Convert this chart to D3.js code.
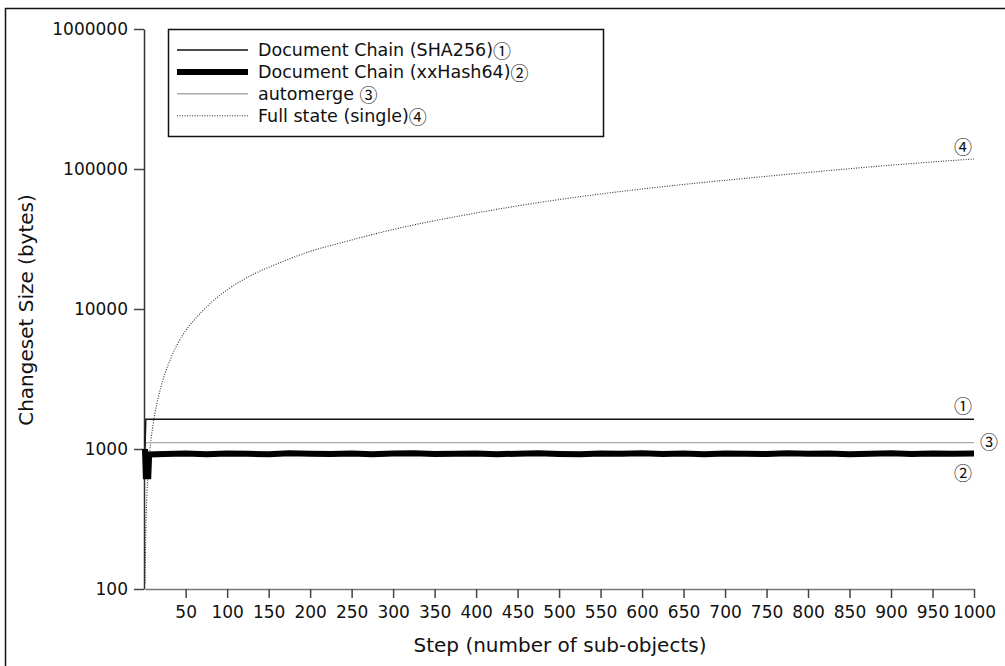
<!DOCTYPE html>
<meta charset="utf-8">
<script src="https://cdn.jsdelivr.net/npm/d3@7/dist/d3.min.js"></script>
<style type="text/css">
    body { margin: 0; background: #fff; }
    text { font-family: "DejaVu Sans", sans-serif; fill: #111; }
    .axis path, .axis line { fill: none; stroke: #444; stroke-width: 1.5; }
    .axis text { font-size: 17px; }
    .circ { font-family: "Noto Sans CJK JP", "DejaVu Sans", sans-serif; }
</style>
<body>
<script>
    // steps and values
    var shaSteps   = [1, 2, 1000],
        shaValues  = [1000, 1630, 1630];

    var xxSteps  = [1, 2, 5, 6, 25, 50, 75, 100, 125, 150, 175, 200, 225, 250, 275, 300, 325, 350, 375, 400,
                    425, 450, 475, 500, 525, 550, 575, 600, 625, 650, 675, 700, 725, 750, 775, 800,
                    825, 850, 875, 900, 925, 950, 975, 1000],
        xxValues = [1000, 640, 640, 915, 922, 928, 918, 930, 924, 919, 932, 926, 921, 929, 917, 927, 933, 920,
                    925, 930, 918, 926, 931, 922, 919, 928, 924, 933, 921, 927, 918, 929, 925, 920,
                    931, 923, 928, 919, 926, 932, 921, 927, 924, 929];

    var amSteps  = [1, 2, 1000],
        amValues = [1000, 1110, 1110];

    var fullSteps  = [1, 2, 3, 5, 7, 10, 13, 20, 25, 30, 40, 50, 60, 80, 100, 130, 160, 200, 240, 300,
                      400, 500, 600, 700, 800, 900, 1000],
        fullValues = [110, 260, 420, 720, 1000, 1400, 1800, 2750, 3450, 4150, 5600, 7000, 8300, 11000, 13700,
                      17500, 21000, 25800, 30000, 37000, 48500, 60500, 72000, 83000, 94500, 106500, 118000];

    var yTicks = [100, 1000, 10000, 100000, 1000000],
        xTicks = [50, 100, 150, 200, 250, 300, 350, 400, 450, 500, 550, 600, 650, 700, 750, 800, 850, 900, 950, 1000];

    var legendNames = ["Document Chain (SHA256)", "Document Chain (xxHash64)", "automerge ", "Full state (single)"],
        marks = ["\u2460", "\u2461", "\u2462", "\u2463"];

    var width = 1005, height = 666;

    var x = d3.scaleLinear().domain([1, 1000]).range([145, 974]),
        y = d3.scaleLog().domain([100, 1000000]).range([589, 29]);

    var svg = d3.select("body")
        .append("svg")
        .attr("width", width)
        .attr("height", height);

    // outer frame
    svg.append("rect")
        .attr("x", 5.5).attr("y", 8.5)
        .attr("width", 1010).attr("height", 680)
        .style("fill", "none").style("stroke", "#111").style("stroke-width", 1.5);

    // axes
    svg.append("g")
        .attr("class", "axis")
        .attr("transform", "translate(144,0)")
        .call(d3.axisLeft(y).tickValues(yTicks).tickFormat(d3.format("d")).tickSize(10).tickSizeOuter(0).tickPadding(6))
        .select(".domain").style("stroke", "#333");

    svg.append("g")
        .attr("class", "axis")
        .attr("transform", "translate(0,589)")
        .call(d3.axisBottom(x).tickValues(xTicks).tickFormat(d3.format("d")).tickSize(9).tickSizeOuter(0).tickPadding(8))
        .select(".domain").style("stroke", "#777");

    // axis titles
    svg.append("text")
        .attr("transform", "translate(33,310) rotate(-90)")
        .attr("text-anchor", "middle")
        .style("font-size", "20px")
        .text("Changeset Size (bytes)");

    svg.append("text")
        .attr("x", 560).attr("y", 652)
        .attr("text-anchor", "middle")
        .style("font-size", "20px")
        .text("Step (number of sub-objects)");

    function pts(s, v) {
        return s.map(function(d, i){ return [d, v[i]]; });
    }

    var line = d3.line()
        .x(function(d){ return x(d[0]); })
        .y(function(d){ return y(d[1]); });

    var curve = d3.line()
        .curve(d3.curveMonotoneX)
        .x(function(d){ return x(d[0]); })
        .y(function(d){ return y(d[1]); });

    var styles = [
        {stroke: "#111", width: 1.4, dash: null},
        {stroke: "#000", width: 6, dash: null},
        {stroke: "#aaa", width: 1.4, dash: null},
        {stroke: "#333", width: 1.1, dash: "1,1.5"}
    ];

    var series = [
        line(pts(shaSteps, shaValues)),
        line(pts(xxSteps, xxValues)),
        line(pts(amSteps, amValues)),
        curve(pts(fullSteps, fullValues))
    ];

    // draw order: full state, automerge, sha, xxhash
    [3, 2, 0, 1].forEach(function(i){
        svg.append("path")
            .attr("d", series[i])
            .style("fill", "none")
            .style("stroke", styles[i].stroke)
            .style("stroke-width", styles[i].width)
            .style("stroke-dasharray", styles[i].dash);
    });

    // end labels
    var endLabels = [
        {t: marks[0], v: shaValues[shaValues.length - 1], dx: -11, dy: -14},
        {t: marks[1], v: xxValues[xxValues.length - 1], dx: -11, dy: 19},
        {t: marks[2], v: amValues[amValues.length - 1], dx: 15, dy: -2},
        {t: marks[3], v: fullValues[fullValues.length - 1], dx: -11, dy: -13}
    ];
    svg.selectAll("endlabel")
        .data(endLabels)
        .enter()
        .append("text")
        .attr("class", "circ")
        .attr("x", function(d){ return x(1000) + d.dx; })
        .attr("y", function(d){ return y(d.v) + d.dy; })
        .attr("text-anchor", "middle")
        .attr("dominant-baseline", "central")
        .style("font-size", "18px")
        .text(function(d){ return d.t; });

    // legend
    var lg = svg.append("g");
    lg.append("rect")
        .attr("x", 168.5).attr("y", 29.5)
        .attr("width", 435).attr("height", 107)
        .style("fill", "#fff").style("stroke", "#111").style("stroke-width", 1.5);

    legendNames.forEach(function(d, i){
        var ly = 50 + i * 21.9;
        lg.append("line")
            .attr("x1", 177).attr("x2", 248)
            .attr("y1", ly).attr("y2", ly)
            .style("stroke", styles[i].stroke)
            .style("stroke-width", styles[i].width)
            .style("stroke-dasharray", styles[i].dash);
        var t = lg.append("text")
            .attr("x", 258).attr("y", ly)
            .attr("dominant-baseline", "central")
            .style("font-size", "17.5px");
        t.append("tspan").text(d);
        t.append("tspan").attr("class", "circ").style("font-size", "18px").text(marks[i]);
    });
</script>
</body>
